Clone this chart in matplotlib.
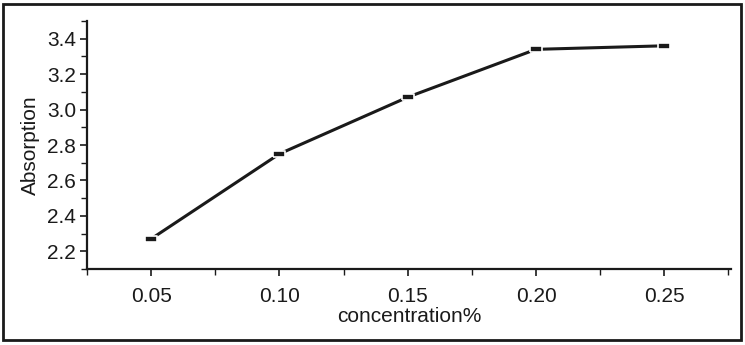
import numpy as np
import matplotlib
matplotlib.use('Agg')
import matplotlib.pyplot as plt
from matplotlib.patches import Rectangle
from matplotlib.ticker import MultipleLocator

plt.rcParams['font.family'] = ['Liberation Sans', 'DejaVu Sans']

# concentration (%) vs absorption
concentration = [0.05, 0.10, 0.15, 0.20, 0.25]
absorption = [2.27, 2.75, 3.07, 3.34, 3.36]
xtick_labels = ['0.05', '0.10', '0.15', '0.20', '0.25']

fig = plt.figure(figsize=(7.45, 3.45), dpi=100)
ax = fig.add_axes([87 / 745, 76 / 345, 644 / 745, 248 / 345])

# flat rectangular marker
rect = [(-1, -0.5), (1, -0.5), (1, 0.5), (-1, 0.5), (-1, -0.5)]
ax.plot(concentration, absorption, color='#1a1a1a', lw=2.2, zorder=2)
ax.plot(concentration, absorption, ls='none', marker=rect, ms=9,
        color='#1a1a1a', mec='white', mew=1.2, zorder=3)

ax.set_xlim(0.025, 0.276)
ax.set_ylim(2.1, 3.5)
ax.set_xticks(concentration)
ax.set_xticklabels(xtick_labels)
ax.xaxis.set_minor_locator(MultipleLocator(0.025))
ax.set_yticks([2.2, 2.4, 2.6, 2.8, 3.0, 3.2, 3.4])
ax.yaxis.set_minor_locator(MultipleLocator(0.1))

for side in ['top', 'right']:
    ax.spines[side].set_visible(False)
for side in ['left', 'bottom']:
    ax.spines[side].set_linewidth(1.6)
    ax.spines[side].set_color('#1a1a1a')

ax.tick_params(which='major', length=5, width=1.2, labelsize=15,
               colors='#1a1a1a', pad=3)
ax.tick_params(which='minor', length=4, width=1.0, colors='#1a1a1a')
ax.tick_params(axis='x', pad=8)

ax.set_xlabel('concentration%', fontsize=15, color='#1a1a1a', labelpad=1)
ax.set_ylabel('Absorption', fontsize=15, color='#1a1a1a', labelpad=5)

# frame around the whole figure
fig.patches.append(Rectangle((3 / 745, 5 / 345), 738 / 745, 336 / 345,
                             transform=fig.transFigure, fill=False,
                             lw=2.0, ec='#1a1a1a'))

fig.savefig('out.png', dpi=100)
